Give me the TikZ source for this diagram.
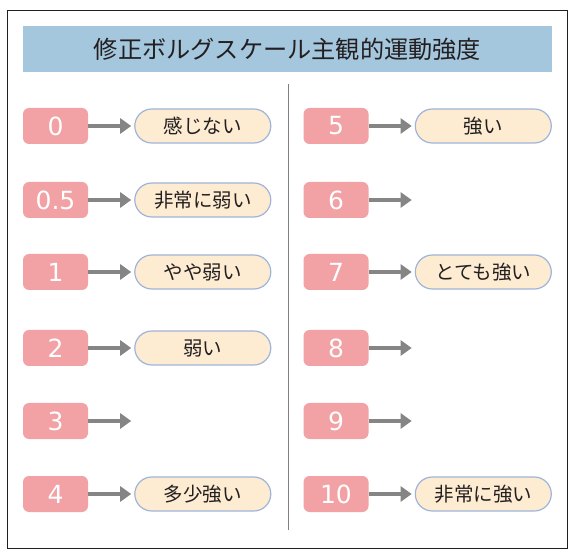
\documentclass[tikz,border=0pt]{standalone}
\usepackage{fontspec}
\setmainfont{Noto Sans CJK JP}
\newfontfamily\numfont{DejaVu Sans}
\usetikzlibrary{arrows.meta,positioning}
\definecolor{titleblue}{HTML}{A5C7DE}
\definecolor{numpink}{HTML}{F2A1A4}
\definecolor{pillfill}{HTML}{FDEBD2}
\definecolor{pilledge}{HTML}{9FB4DB}
\definecolor{arrgray}{HTML}{858585}
\definecolor{inkgray}{HTML}{231F20}

\begin{document}
\begin{tikzpicture}[
  x=1pt, y=-1pt,
  num/.style={rectangle, fill=numpink, rounded corners=6pt,
              minimum width=65pt, minimum height=36pt, inner sep=0pt,
              text=white, font=\numfont\fontsize{25}{25}\selectfont},
  pill/.style={rectangle, draw=pilledge, fill=pillfill, line width=1.2pt,
               rounded corners=17pt, minimum width=136pt, minimum height=34pt,
               inner sep=0pt, text=inkgray, font=\fontsize{19.5}{19.5}\selectfont},
  arr/.style={draw=arrgray, line width=4pt,
              -{Triangle[length=11pt,width=15pt]}, shorten >=3pt}
]
  \useasboundingbox (0,0) rectangle (579,556);
  \draw[inkgray, line width=1pt] (7,11) rectangle (567,548);
  \node[fill=titleblue, minimum width=529pt, minimum height=46pt,
        inner sep=0pt, text=inkgray, font=\fontsize{24.2}{24.2}\selectfont] (title)
        at (287.5,49) {修正ボルグスケール主観的運動強度};
  \draw[gray, line width=0.8pt] (288,84) -- (288,530);
  % score boxes
  \foreach \k/\v/\y in {1/0/126, 2/0.5/200, 3/1/272, 4/2/348, 5/3/421, 6/4/494}
    \node[num] (L\k) at (55.5,\y) {\v};
  \foreach \k/\v/\y in {1/5/126, 2/6/200, 3/7/272, 4/8/348, 5/9/421, 6/10/494}
    \node[num] (R\k) at (336,\y) {\v};
  % labels
  \foreach \k/\lbl in {1/感じない, 2/非常に弱い, 3/やや弱い, 4/弱い, 6/多少強い}
    \node[pill, right=46pt of L\k] (LP\k) {\lbl};
  \foreach \k/\lbl in {1/強い, 3/とても強い, 6/非常に強い}
    \node[pill, right=46pt of R\k] (RP\k) {\lbl};
  \foreach \k in {1,2,3,4,6} \draw[arr] (L\k) -- (LP\k);
  \foreach \k in {1,3,6} \draw[arr] (R\k) -- (RP\k);
  \coordinate (Lend5) at ([xshift=46pt]L5.east);
  \draw[arr] (L5) -- (Lend5);
  \foreach \k in {2,4,5} {
    \coordinate (Rend\k) at ([xshift=46pt]R\k.east);
    \draw[arr] (R\k) -- (Rend\k);
  }
\end{tikzpicture}
\end{document}
